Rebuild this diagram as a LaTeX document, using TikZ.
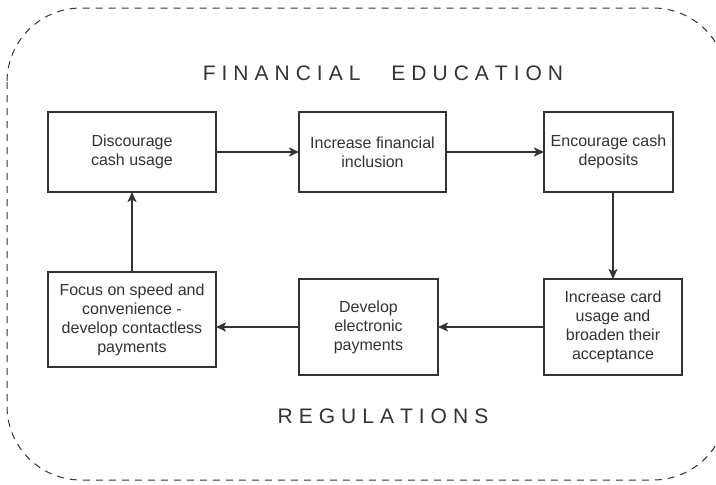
\documentclass[tikz,border=0pt]{standalone}
\usepackage{fontspec}
\setmainfont{Liberation Sans}
\usetikzlibrary{arrows.meta}
\definecolor{ink}{HTML}{333333}
\makeatletter
% letters spread apart by a fixed kern
\newcommand\tracked[1]{\@tfor\tk@c:=#1\do{\tk@c\kern6pt}\unkern}
\makeatother
\tikzset{
  stage/.style={draw=ink, line width=1.2pt, text=ink, align=center,
    inner sep=0pt, outer sep=0pt, font=\fontsize{16}{19}\selectfont},
  flow/.style={draw=ink, line width=2.6pt,
    -{Stealth[length=10pt,width=9pt,inset=2.5pt]}},
  banner/.style={text=ink, anchor=base, inner sep=0pt, font=\fontsize{21}{25}\selectfont},
  frame/.style={draw=ink, line width=1pt, dash pattern=on 7pt off 6pt, rounded corners=74pt}
}
\begin{document}
\begin{tikzpicture}[x=1pt,y=-1pt]
\useasboundingbox (0,0) rectangle (716,485);
\clip (0,0) rectangle (716,485);
\fill[white] (0,0) rectangle (716,485);

% dashed surrounding frame, its right side runs past the page edge
\draw[frame] (7,8) rectangle (727,480);

% headings
\node[banner] (edu) at (383,80) {\tracked{FINANCIAL}\hspace{31pt}\tracked{EDUCATION}};
\node[banner] (reg) at (383,423) {\tracked{REGULATIONS}};

% stages of the cycle
\node[stage, minimum width=168pt, minimum height=80pt] (b1) at (132,152) {Discourage\\cash usage};
\node[stage, minimum width=147pt, minimum height=80pt] (b2) at (372.5,152) {Increase financial\\inclusion};
\node[stage, minimum width=129pt, minimum height=80pt] (b3) at (608.5,152) {Encourage cash\\deposits};
\node[stage, minimum width=138pt, minimum height=96pt] (b4) at (613,327) {Increase card\\usage and\\broaden their\\acceptance};
\node[stage, minimum width=139pt, minimum height=96pt] (b5) at (368.5,327) {Develop\\electronic\\payments};
\node[stage, minimum width=168pt, minimum height=95pt] (b6) at (132,319.5) {Focus on speed and\\convenience -\\develop contactless\\payments};

% arrows
\draw[flow] (b1) -- (b2);
\draw[flow] (b2) -- (b3);
\draw[flow] (b4.north |- b3.south) -- (b4.north);
\draw[flow] (b4.west) -- (b5.east);
\draw[flow] (b5.west) -- (b5.west -| b6.east);
\draw[flow] (b6) -- (b1);
\end{tikzpicture}
\end{document}
